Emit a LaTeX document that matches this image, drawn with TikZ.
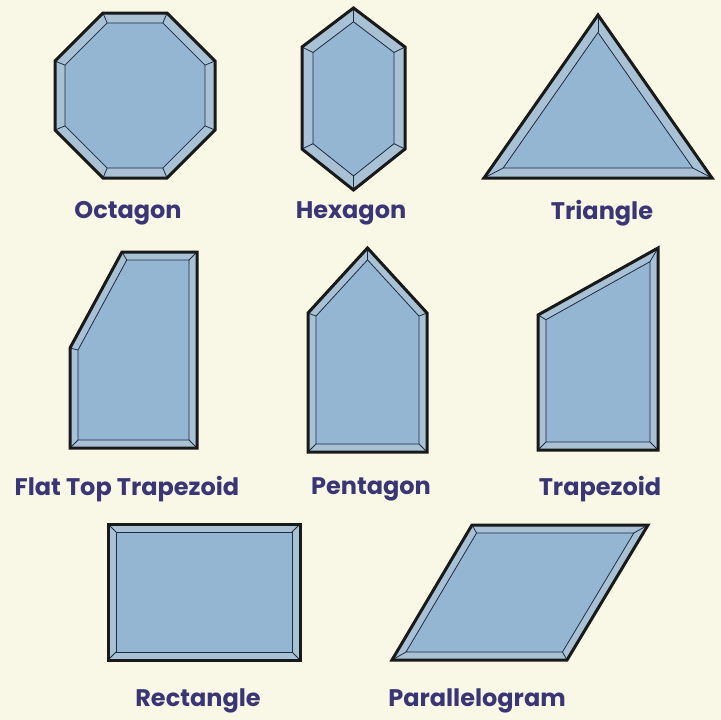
\documentclass[tikz,border=0pt]{standalone}
\usepackage{fontspec}
\setmainfont{Poppins}
\usetikzlibrary{calc}
\definecolor{bgcol}{HTML}{F9F7E6}
\definecolor{mainfill}{HTML}{94B6D3}
\definecolor{bevelfill}{HTML}{A9C1D5}
\definecolor{innercol}{HTML}{1E2A40}
\definecolor{labelcol}{HTML}{3A3675}
\newdimen\iAx \newdimen\iAy \newdimen\iBx \newdimen\iBy \newdimen\iCx \newdimen\iCy
\newcommand\insetcoord[5]{%
  \pgfextractx{\iAx}{\pgfpointanchor{#2}{center}}%
  \pgfextracty{\iAy}{\pgfpointanchor{#2}{center}}%
  \pgfextractx{\iBx}{\pgfpointanchor{#3}{center}}%
  \pgfextracty{\iBy}{\pgfpointanchor{#3}{center}}%
  \pgfextractx{\iCx}{\pgfpointanchor{#4}{center}}%
  \pgfextracty{\iCy}{\pgfpointanchor{#4}{center}}%
  \pgfmathsetmacro\iux{\iAx-\iBx}%
  \pgfmathsetmacro\iuy{\iAy-\iBy}%
  \pgfmathsetmacro\ivx{\iCx-\iBx}%
  \pgfmathsetmacro\ivy{\iCy-\iBy}%
  \pgfmathsetmacro\iun{veclen(\iux,\iuy)}%
  \pgfmathsetmacro\ivn{veclen(\ivx,\ivy)}%
  \pgfmathsetmacro\iax{\iux/\iun}%
  \pgfmathsetmacro\iay{\iuy/\iun}%
  \pgfmathsetmacro\ibx{\ivx/\ivn}%
  \pgfmathsetmacro\iby{\ivy/\ivn}%
  \pgfmathsetmacro\isn{abs(\iax*\iby-\iay*\ibx)}%
  \pgfmathsetmacro\ik{#5/\isn}%
  \pgfmathsetmacro\iox{\iBx+\ik*(\iax+\ibx)}%
  \pgfmathsetmacro\ioy{\iBy+\ik*(\iay+\iby)}%
  \coordinate (#1) at (\iox pt,\ioy pt);%
}
\newcommand\bevelshape[3]{%
  \foreach \k in {1,...,#2}{%
    \pgfmathtruncatemacro\kp{\k==1 ? #2 : \k-1}%
    \pgfmathtruncatemacro\kn{\k==#2 ? 1 : \k+1}%
    \insetcoord{#1i\k}{#1o\kp}{#1o\k}{#1o\kn}{#3}%
  }%
  \fill[bevelfill] (#1o1) \foreach \k in {2,...,#2}{-- (#1o\k)} -- cycle;
  \draw[innerline, fill=mainfill] (#1i1) \foreach \k in {2,...,#2}{-- (#1i\k)} -- cycle;
  \foreach \k in {1,...,#2}{\draw[innerline] (#1o\k) -- (#1i\k);}
  \draw[outerline] (#1o1) \foreach \k in {2,...,#2}{-- (#1o\k)} -- cycle;
}
\begin{document}
\begin{tikzpicture}[x=1pt,y=-1pt,
  outerline/.style={draw=black!90, line width=3pt, line join=miter},
  innerline/.style={draw=innercol, line width=0.8pt, line join=miter},
  shapelabel/.style={text=labelcol, font=\fontsize{24}{28}\selectfont\bfseries, inner sep=0pt, anchor=center}]
\fill[bgcol] (0,0) rectangle (721,720);
\useasboundingbox (0,0) rectangle (721,720);
% Octagon
\coordinate (oco1) at (103,13); \coordinate (oco2) at (167,13);
\coordinate (oco3) at (215,61); \coordinate (oco4) at (215,130);
\coordinate (oco5) at (167,178); \coordinate (oco6) at (103,178);
\coordinate (oco7) at (55,130); \coordinate (oco8) at (55,61);
\bevelshape{oc}{8}{10}
% Hexagon
\coordinate (hxo1) at (353.5,8); \coordinate (hxo2) at (405,47);
\coordinate (hxo3) at (405,149); \coordinate (hxo4) at (353.5,190);
\coordinate (hxo5) at (302,149); \coordinate (hxo6) at (302,47);
\bevelshape{hx}{6}{11}
% Triangle
\coordinate (tro1) at (598,15); \coordinate (tro2) at (712,178);
\coordinate (tro3) at (484,178);
\bevelshape{tr}{3}{10}
% Flat top trapezoid
\coordinate (fto1) at (122,252); \coordinate (fto2) at (197,252);
\coordinate (fto3) at (197,448); \coordinate (fto4) at (70,448);
\coordinate (fto5) at (70,348);
\bevelshape{ft}{5}{8}
% Pentagon
\coordinate (peo1) at (367.5,248); \coordinate (peo2) at (427,313);
\coordinate (peo3) at (427,452); \coordinate (peo4) at (308,452);
\coordinate (peo5) at (308,313);
\bevelshape{pe}{5}{8}
% Trapezoid
\coordinate (tzo1) at (658,248); \coordinate (tzo2) at (658,450);
\coordinate (tzo3) at (538,450); \coordinate (tzo4) at (538,315);
\bevelshape{tz}{4}{8}
% Rectangle
\coordinate (reo1) at (108,524); \coordinate (reo2) at (300,524);
\coordinate (reo3) at (300,660); \coordinate (reo4) at (108,660);
\bevelshape{re}{4}{8}
% Parallelogram
\coordinate (pao1) at (472,525); \coordinate (pao2) at (648,525);
\coordinate (pao3) at (567,660); \coordinate (pao4) at (392,660);
\bevelshape{pa}{4}{8}
% Labels
\node[shapelabel] (locta) at (128,213) {Octagon};
\node[shapelabel] (lhexa) at (351,213) {Hexagon};
\node[shapelabel] (ltria) at (602,213) {Triangle};
\node[shapelabel] (lflat) at (127,489) {Flat Top Trapezoid};
\node[shapelabel] (lpent) at (371,489) {Pentagon};
\node[shapelabel] (ltrap) at (600,489) {Trapezoid};
\node[shapelabel] (lrect) at (198,701) {Rectangle};
\node[shapelabel] (lpara) at (477,701) {Parallelogram};
\end{tikzpicture}
\end{document}
